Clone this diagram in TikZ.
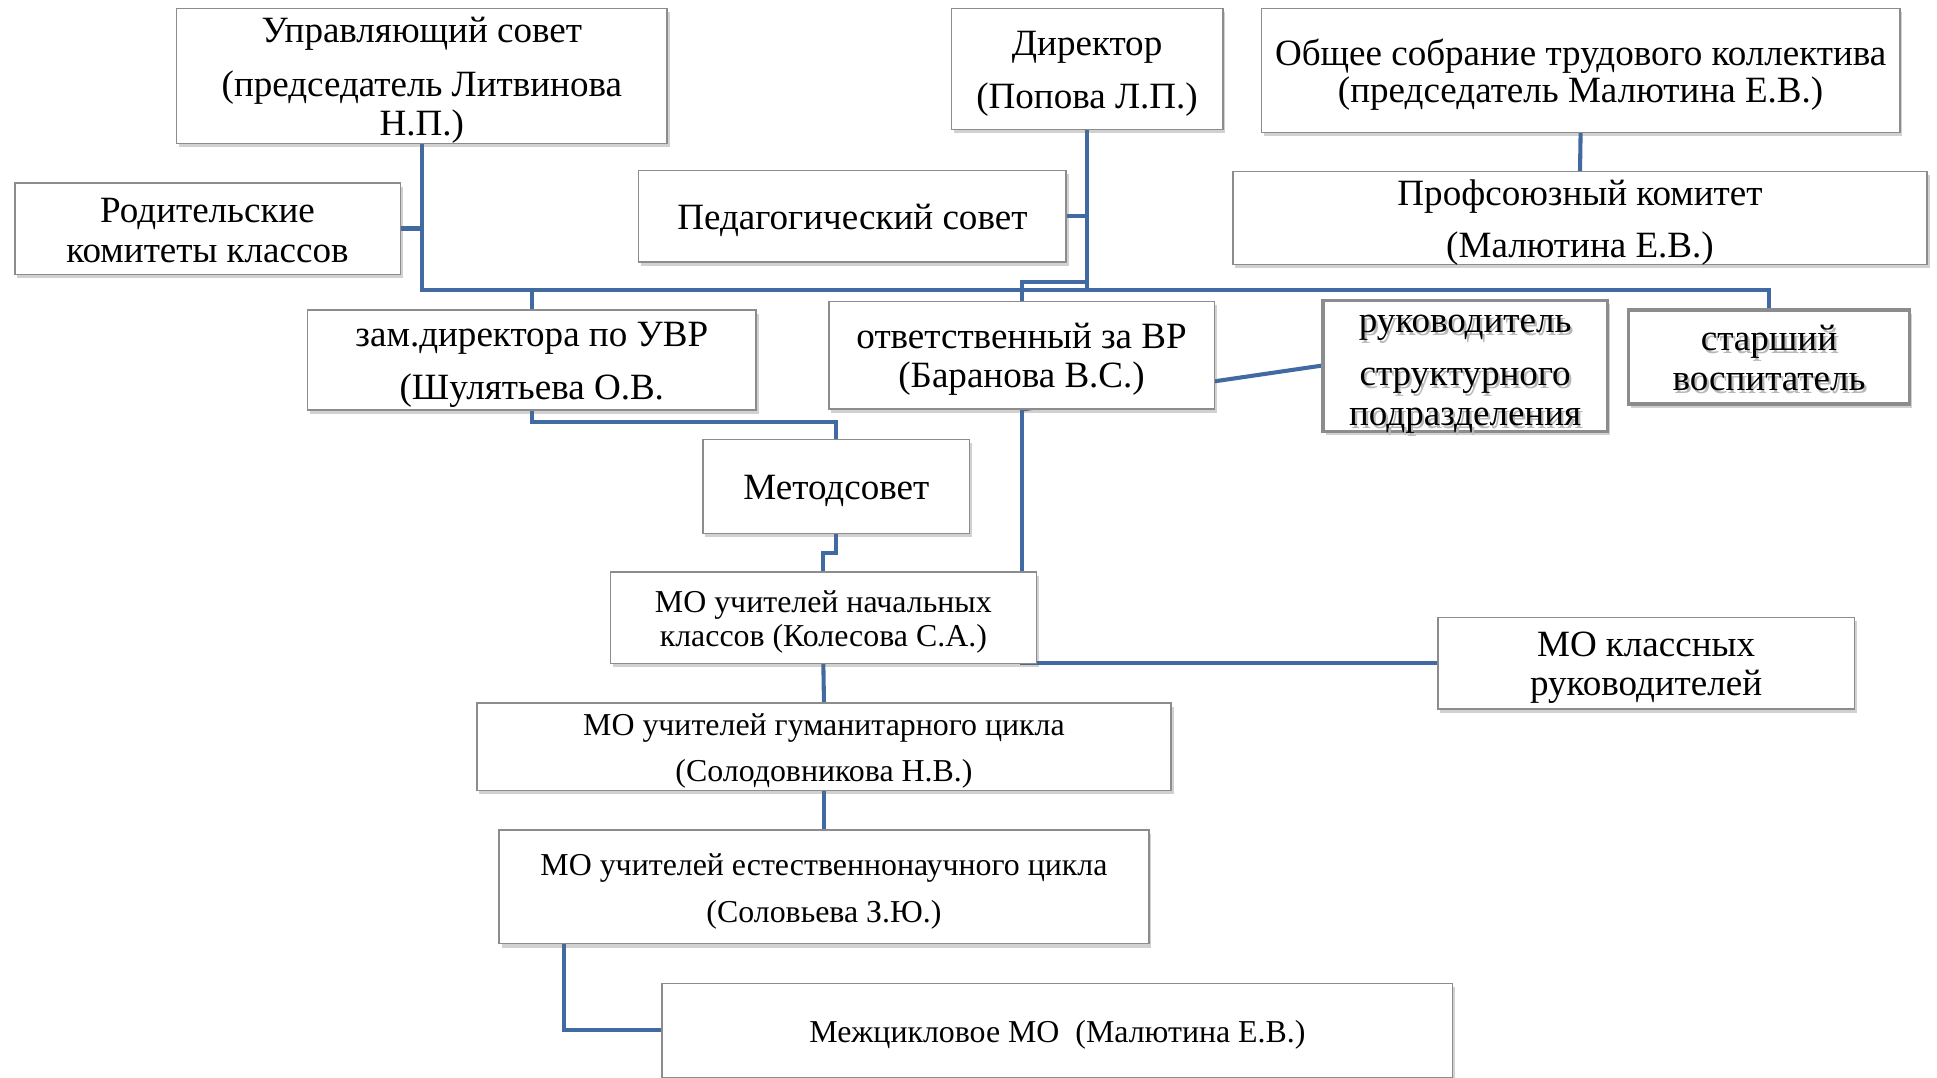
\documentclass[tikz,border=0pt]{standalone}
\usepackage{fontspec}
\setmainfont{Liberation Serif}
\usetikzlibrary{shadows,calc}
\definecolor{linkblue}{RGB}{66,106,162}
\definecolor{boxgray}{RGB}{140,140,140}
\pgfdeclarelayer{background}
\pgfsetlayers{background,main}
\newcommand\shtxt[1]{\leavevmode\rlap{\kern1.8pt\raisebox{-2.2pt}{\textcolor{black!28}{#1}}}#1}
\tikzset{
  box/.style={draw=boxgray, line width=1.1pt, fill=white, inner sep=0pt,
    drop shadow={shadow xshift=2pt, shadow yshift=-3pt, opacity=0.3, fill=black!60}},
  thickbox/.style={box, draw=black!45, line width=2.6pt},
  conn/.style={draw=linkblue, line width=3.3pt},
  lbl/.style={align=center, inner sep=0pt, yshift=-3.5pt},
  big/.style={lbl, font=\fontsize{30}{32}\selectfont},
  small/.style={lbl, font=\fontsize{25.8}{27.5}\selectfont},
}
\begin{document}
\begin{tikzpicture}[x=1pt,y=-1pt]
\useasboundingbox (0,0) rectangle (1568,872);

\node[box,minimum width=397pt,minimum height=109pt,
  label={[big]center:{Управляющий совет\\[12pt](председатель Литвинова\\Н.П.)}}] (uprav) at (341.5,61.5) {};
\node[box,minimum width=312pt,minimum height=74pt,
  label={[big,yshift=2pt]center:{Родительские\\комитеты классов}}] (rodit) at (168,185) {};
\node[box,minimum width=220pt,minimum height=98pt,
  label={[big]center:{Директор\\[11pt](Попова Л.П.)}}] (dir) at (880,56) {};
\node[box,minimum width=517pt,minimum height=100pt,
  label={[big]center:{Общее собрание трудового коллектива\\[-2pt](председатель Малютина Е.В.)}}] (obsh) at (1279.5,57) {};
\node[box,minimum width=346pt,minimum height=74pt,
  label={[big]center:{Педагогический совет}}] (ped) at (690,175) {};
\node[box,minimum width=562pt,minimum height=75pt,
  label={[big]center:{Профсоюзный комитет\\[10pt](Малютина Е.В.)}}] (prof) at (1279,176.5) {};
\node[box,minimum width=363pt,minimum height=81pt,
  label={[big]center:{зам.директора по УВР\\[11pt](Шулятьева О.В.}}] (zam) at (430.5,291.5) {};
\node[box,minimum width=312pt,minimum height=87pt,
  label={[big]center:{ответственный за ВР\\(Баранова В.С.)}}] (otv) at (827,287.5) {};
\node[thickbox,minimum width=230pt,minimum height=106pt,
  label={[big,yshift=-4.5pt]center:{\shtxt{руководитель}\\[11pt]\shtxt{структурного}\\\shtxt{подразделения}}}] (ruk) at (1186,296) {};
\node[thickbox,minimum width=228pt,minimum height=76pt,
  label={[big,yshift=1.5pt]center:{\shtxt{старший}\\\shtxt{воспитатель}}}] (star) at (1432,289) {};
\node[box,minimum width=216pt,minimum height=76pt,
  label={[big]center:{Методсовет}}] (metod) at (677,394) {};
\node[box,minimum width=345pt,minimum height=74pt,
  label={[small]center:{МО учителей начальных\\классов (Колесова С.А.)}}] (monach) at (666.5,500) {};
\node[box,minimum width=337pt,minimum height=74pt,
  label={[big]center:{МО классных\\руководителей}}] (moklass) at (1332.5,537) {};
\node[box,minimum width=562pt,minimum height=71pt,
  label={[small]center:{МО учителей гуманитарного цикла\\[9.5pt](Солодовникова Н.В.)}}] (mogum) at (667,604.5) {};
\node[box,minimum width=526pt,minimum height=92pt,
  label={[small]center:{МО учителей естественнонаучного цикла\\[10.5pt](Соловьева З.Ю.)}}] (moest) at (667,718) {};
\node[box,minimum width=640pt,minimum height=76pt,
  label={[small]center:{Межцикловое МО\ \ (Малютина Е.В.)}}] (mezh) at (856,834) {};

\coordinate (bus) at (0,235);
\coordinate (jog) at (0,228);
\begin{pgfonlayer}{background}
\draw[conn] (uprav.south) -- (uprav.south |- bus) -- (star.north |- bus) -- (star.north);
\draw[conn] (rodit.east) -- (uprav.south |- rodit.east);
\draw[conn] (dir.south) -- (dir.south |- bus);
\draw[conn] (ped.east) -- (dir.south |- ped.east);
\draw[conn] (dir.south |- jog) -- (otv.north |- jog) -- (otv.north);
\draw[conn] (zam.north) -- (zam.north |- bus);
\draw[conn] (obsh.south) -- (prof.north);
\draw[conn] (otv.south) -- (ruk.west);
\draw[conn] (zam.south) -- ++(0,9) -| (metod.north);
\draw[conn] (metod.south) -- ++(0,15) -| (monach.north);
\draw[conn] (otv.south) |- (moklass.west);
\draw[conn] (monach.south) -- (mogum.north);
\draw[conn] (mogum.south) -- (moest.north);
\draw[conn] ([xshift=53pt]moest.south west) |- (mezh.west);
\end{pgfonlayer}
\end{tikzpicture}
\end{document}
